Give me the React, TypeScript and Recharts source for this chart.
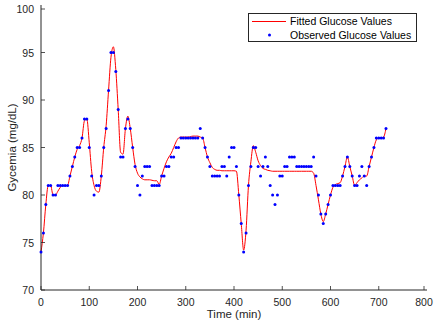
import React from 'react';
import { ComposedChart, Line, Scatter, XAxis, YAxis, Legend } from 'recharts';

// sample times (min), every 5 min
const times = [
  0, 5, 10, 15, 20, 25, 30, 35, 40, 45, 50, 55,
  60, 65, 70, 75, 80, 85, 90, 95, 100, 105, 110, 115,
  120, 125, 130, 135, 140, 145, 150, 155, 160, 165, 170, 175,
  180, 185, 190, 195, 200, 205, 210, 215, 220, 225, 230, 235,
  240, 245, 250, 255, 260, 265, 270, 275, 280, 285, 290, 295,
  300, 305, 310, 315, 320, 325, 330, 335, 340, 345, 350, 355,
  360, 365, 370, 375, 380, 385, 390, 395, 400, 405, 410, 415,
  420, 425, 430, 435, 440, 445, 450, 455, 460, 465, 470, 475,
  480, 485, 490, 495, 500, 505, 510, 515, 520, 525, 530, 535,
  540, 545, 550, 555, 560, 565, 570, 575, 580, 585, 590, 595,
  600, 605, 610, 615, 620, 625, 630, 635, 640, 645, 650, 655,
  660, 665, 670, 675, 680, 685, 690, 695, 700, 705, 710, 715,
];

// observed glucose (mg/dL)
const observed = [
  74, 76, 79, 81, 81, 80, 80, 81, 81, 81, 81, 81,
  82, 83, 84, 85, 85, 86, 88, 88, 85, 82, 80, 81,
  81, 82, 85, 87, 91, 95, 95, 93, 89, 84, 84, 87,
  88, 87, 85, 83, 81, 80, 82, 83, 83, 83, 81, 81,
  81, 81, 82, 82, 83, 83, 84, 84, 85, 85, 86, 86,
  86, 86, 86, 86, 86, 86, 87, 86, 85, 84, 83, 82,
  82, 82, 82, 83, 83, 82, 84, 85, 85, 83, 80, 77,
  74, 76, 81, 83, 85, 85, 83, 82, 83, 84, 83, 81,
  80, 79, 80, 82, 82, 83, 83, 84, 84, 84, 83, 83,
  83, 83, 83, 83, 83, 84, 82, 80, 78, 77, 78, 79,
  80, 81, 81, 81, 81, 82, 83, 84, 83, 82, 81, 81,
  82, 83, 82, 81, 83, 84, 85, 86, 86, 86, 86, 87,
];

// fitted model curve (mg/dL)
const fitted = [
  74, 76, 79, 81, 81, 80, 80, 80.4, 80.8, 81, 81, 81,
  82, 83, 84, 84.8, 85.2, 86, 87.8, 88, 85.5, 82.5, 81, 80.4,
  80.3, 82, 85, 87.3, 91, 94.5, 95.6, 93.2, 89, 84.5, 84.3, 87,
  88.3, 87, 85, 83.2, 82.3, 81.9, 81.7, 81.6, 81.6, 81.6, 81.55, 81.5,
  81.5, 81.1, 82, 82.8, 83.5, 84, 84.4, 85, 85.6, 86, 86.1, 86.1,
  86.1, 86.1, 86.15, 86.2, 86.2, 86.2, 86.1, 86, 85, 84, 83.4, 82.9,
  82.7, 82.6, 82.6, 82.55, 82.55, 82.55, 82.55, 82.55, 82.55, 82.5, 80, 77,
  74.2, 76.3, 81, 83.5, 85.2, 84.5, 83.6, 83.1, 82.8, 82.7, 82.6, 82.55,
  82.5, 82.5, 82.5, 82.5, 82.5, 82.5, 82.5, 82.5, 82.5, 82.5, 82.5, 82.5,
  82.5, 82.5, 82.5, 82.5, 82.5, 82.3, 81, 79.5, 78, 77.2, 78, 79,
  80, 80.8, 81.1, 81.2, 81.3, 82, 83, 84, 83, 82, 81, 81.3,
  81.6, 81.8, 82, 82, 83, 84, 85, 85.8, 86, 86, 86.1, 87,
];

const xTicks = [0, 100, 200, 300, 400, 500, 600, 700, 800];
const yTicks = [70, 75, 80, 85, 90, 95, 100];

const FONT = '"Liberation Sans", Arial, Helvetica, sans-serif';
const AXIS = '#262626';
const TICK = 4;

const BottomTick = (props: any) => {
  const { x, y, payload } = props;
  return (
    <g>
      <line x1={x} y1={y} x2={x} y2={y - TICK} stroke={AXIS} strokeWidth={0.8} />
      <text x={x} y={y + 16} textAnchor="middle" fill={AXIS} fontSize={10.5} fontFamily={FONT}>
        {payload.value}
      </text>
    </g>
  );
};

const TopTick = (props: any) => {
  const { x, y } = props;
  return <line x1={x} y1={y} x2={x} y2={y + TICK} stroke={AXIS} strokeWidth={0.8} />;
};

const LeftTick = (props: any) => {
  const { x, y, payload } = props;
  return (
    <g>
      <line x1={x} y1={y} x2={x + TICK} y2={y} stroke={AXIS} strokeWidth={0.8} />
      <text x={x - 7} y={y + 4} textAnchor="end" fill={AXIS} fontSize={10.5} fontFamily={FONT}>
        {payload.value}
      </text>
    </g>
  );
};

const RightTick = (props: any) => {
  const { x, y } = props;
  return <line x1={x} y1={y} x2={x - TICK} y2={y} stroke={AXIS} strokeWidth={0.8} />;
};

const GlucoseLegend = () => (
  <div
    style={{
      position: 'relative',
      width: 169,
      height: 29,
      border: '1px solid #262626',
      background: '#fff',
      boxSizing: 'border-box',
      fontFamily: FONT,
      fontSize: 10.5,
      color: '#000',
    }}
  >
    <svg width={40} height={27} style={{ position: 'absolute', left: 0, top: 0 }}>
      <line x1={3} y1={7.5} x2={37} y2={7.5} stroke="#ff0000" strokeWidth={1} />
      <circle cx={20.5} cy={21} r={1.5} fill="#0000ff" />
    </svg>
    <div style={{ position: 'absolute', left: 41, top: 1, lineHeight: '12px', whiteSpace: 'nowrap' }}>
      Fitted Glucose Values
    </div>
    <div style={{ position: 'absolute', left: 41, top: 14.5, lineHeight: '12px', whiteSpace: 'nowrap' }}>
      Observed Glucose Values
    </div>
  </div>
);

const Dot = (props: any) => <circle cx={props.cx} cy={props.cy} r={1.5} fill="#0000ff" />;

export default function App() {
  const obsData = times.map((t, i) => ({ t, v: observed[i] }));
  const fitData = times.map((t, i) => ({ t, f: fitted[i] }));

  return (
    <div style={{ position: 'absolute', left: 0, top: 0, width: 436, height: 327, background: '#fff' }}>
      <ComposedChart width={436} height={327} margin={{ top: 5, right: 9, bottom: 0, left: 0 }}>
        <XAxis
          xAxisId="b"
          dataKey="t"
          type="number"
          domain={[0, 800]}
          ticks={xTicks}
          height={37}
          stroke={AXIS}
          tickSize={0}
          tickMargin={0}
          tickLine={false}
          tick={<BottomTick />}
          label={{ value: 'Time (min)', position: 'insideBottom', offset: 9, fill: AXIS, fontSize: 11.5, fontFamily: FONT }}
        />
        <XAxis
          xAxisId="top"
          orientation="top"
          type="number"
          domain={[0, 800]}
          ticks={xTicks}
          height={0}
          stroke={AXIS}
          tickSize={0}
          tickMargin={0}
          tickLine={false}
          tick={<TopTick />}
        />
        <YAxis
          yAxisId="l"
          type="number"
          domain={[70, 100]}
          ticks={yTicks}
          width={41}
          stroke={AXIS}
          tickSize={0}
          tickMargin={0}
          tickLine={false}
          tick={<LeftTick />}
          label={{
            value: 'Gycemia (mg/dL)',
            angle: -90,
            position: 'insideLeft',
            offset: 12,
            fill: AXIS,
            fontSize: 11.5,
            fontFamily: FONT,
            style: { textAnchor: 'middle' },
          }}
        />
        <YAxis
          yAxisId="r"
          orientation="right"
          type="number"
          domain={[70, 100]}
          ticks={yTicks}
          width={0}
          stroke={AXIS}
          tickSize={0}
          tickMargin={0}
          tickLine={false}
          tick={<RightTick />}
        />
        <Line
          xAxisId="b"
          yAxisId="l"
          data={fitData}
          dataKey="f"
          type="monotone"
          stroke="#ff0000"
          strokeWidth={1}
          dot={false}
          activeDot={false}
          isAnimationActive={false}
        />
        <Scatter
          xAxisId="b"
          yAxisId="l"
          data={obsData}
          dataKey="v"
          shape={<Dot />}
          isAnimationActive={false}
        />
        <Legend
          layout="vertical"
          align="center"
          verticalAlign="middle"
          wrapperStyle={{ top: 13, left: 248, width: 169 }}
          content={() => <GlucoseLegend />}
        />
      </ComposedChart>
    </div>
  );
}
